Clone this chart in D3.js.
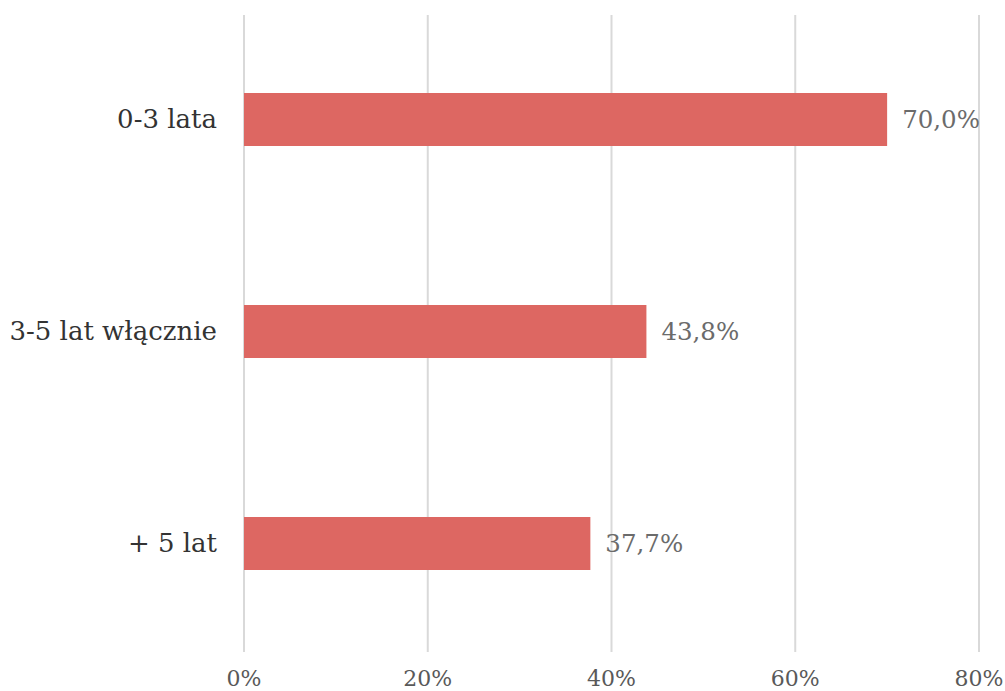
<!DOCTYPE html>
<html>
<head>
<meta charset="utf-8">
<script src="https://cdn.jsdelivr.net/npm/d3@7"></script>
<style>
  html, body { margin: 0; padding: 0; background: #fff; }
  svg { display: block; }
  text { font-family: "DejaVu Serif", "Liberation Serif", serif; }
</style>
</head>
<body>
<svg id="chart" width="1005" height="691"></svg>
<script>
// Age groups and their shares
const categories = ["0-3 lata", "3-5 lat włącznie", "+ 5 lat"];
const values = [0.700, 0.438, 0.377];
const valueLabels = ["70,0%", "43,8%", "37,7%"];
const tickValues = [0, 0.2, 0.4, 0.6, 0.8];
const tickLabels = ["0%", "20%", "40%", "60%", "80%"];

const svg = d3.select("#chart");
const plot = { left: 244, right: 979, top: 13.5, bottom: 649.5 };

const x = d3.scaleLinear().domain([0, 0.8]).range([plot.left, plot.right]);
const y = d3.scaleBand().domain(categories).range([plot.top, plot.bottom])
  .paddingInner(0.75).paddingOuter(0.375);

// vertical gridlines
svg.append("g").selectAll("line").data(tickValues).join("line")
  .attr("x1", d => x(d)).attr("x2", d => x(d))
  .attr("y1", 15).attr("y2", 652)
  .attr("stroke", "#d9d9d9").attr("stroke-width", 2);

// x axis tick labels
svg.append("g").selectAll("text").data(tickValues).join("text")
  .attr("x", d => x(d)).attr("y", 686)
  .attr("text-anchor", "middle")
  .attr("font-size", 22).attr("fill", "#595959")
  .text((d, i) => tickLabels[i]);

// bars
svg.append("g").selectAll("rect").data(values).join("rect")
  .attr("x", x(0))
  .attr("y", (d, i) => y(categories[i]))
  .attr("width", d => x(d) - x(0))
  .attr("height", y.bandwidth())
  .attr("fill", "#dd6762");

// value labels
svg.append("g").selectAll("text").data(values).join("text")
  .attr("x", d => x(d) + 15)
  .attr("y", (d, i) => y(categories[i]) + y.bandwidth() / 2)
  .attr("dy", "0.36em")
  .attr("font-size", 24.5).attr("fill", "#6b6b6b")
  .text((d, i) => valueLabels[i]);

// category labels
svg.append("g").selectAll("text").data(categories).join("text")
  .attr("x", 217)
  .attr("y", d => y(d) + y.bandwidth() / 2)
  .attr("dy", "0.34em")
  .attr("text-anchor", "end")
  .attr("font-size", 26).attr("fill", "#333")
  .text(d => d);
</script>
</body>
</html>
